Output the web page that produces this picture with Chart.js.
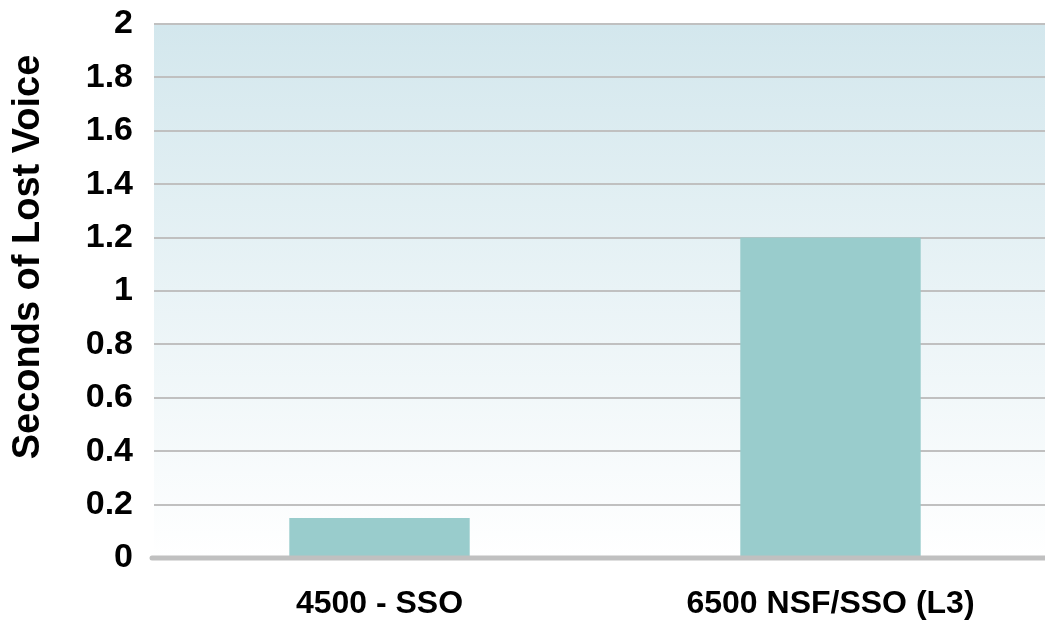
<!DOCTYPE html>
<html>
<head>
<meta charset="utf-8">
<script src="https://cdn.jsdelivr.net/npm/chart.js@4/dist/chart.umd.min.js"></script>
<style>
    html, body { margin: 0; padding: 0; background: #ffffff; overflow: hidden; }
    #wrap { position: relative; width: 1060px; height: 621px; }
</style>
</head>
<body>
<div id="wrap"><canvas id="lostVoiceChart"></canvas></div>
<script>
// Dados do gráfico
const categorias = ['4500 - SSO', '6500 NSF/SSO (L3)'];
const segundosPerdidos = [0.15, 1.2];
const rotulosY = ['0', '0.2', '0.4', '0.6', '0.8', '1', '1.2', '1.4', '1.6', '1.8', '2'];
const tituloY = 'Seconds of Lost Voice';

const corBarra = '#99cccc';
const corGrade = '#c0c0c0';
const fonte = "'Liberation Sans', Arial, sans-serif";

// Fundo em degradê da área de plotagem, linha de base e título do eixo Y
const extras = {
    id: 'extras',
    beforeDraw(chart) {
        const { ctx, chartArea: a } = chart;
        const g = ctx.createLinearGradient(0, a.top, 0, a.bottom);
        g.addColorStop(0, '#d3e7ed');
        g.addColorStop(1, '#ffffff');
        ctx.save();
        ctx.fillStyle = g;
        ctx.fillRect(a.left, a.top, a.right - a.left, a.bottom - a.top);
        ctx.restore();
    },
    afterDatasetsDraw(chart) {
        const { ctx, chartArea: a } = chart;
        ctx.save();
        ctx.strokeStyle = corGrade;
        ctx.lineWidth = 5;
        ctx.lineCap = 'round';
        ctx.beginPath();
        ctx.moveTo(a.left - 2, a.bottom);
        ctx.lineTo(a.right + 10, a.bottom);
        ctx.stroke();
        ctx.restore();
    },
    afterDraw(chart) {
        const { ctx } = chart;
        ctx.save();
        ctx.translate(29, 257);
        ctx.rotate(-Math.PI / 2);
        ctx.fillStyle = '#000000';
        ctx.font = `bold 38px ${fonte}`;
        ctx.textAlign = 'center';
        ctx.textBaseline = 'middle';
        ctx.fillText(tituloY, 0, 0);
        ctx.restore();
    }
};

new Chart(document.getElementById('lostVoiceChart'), {
    type: 'bar',
    data: {
        labels: categorias,
        datasets: [{
            data: segundosPerdidos,
            backgroundColor: corBarra,
            borderWidth: 0,
            barPercentage: 0.5,
            categoryPercentage: 0.8
        }]
    },
    options: {
        responsive: true,
        maintainAspectRatio: false,
        animation: false,
        layout: { padding: { top: 24, right: 4, left: 0, bottom: 0 } },
        plugins: { legend: { display: false }, tooltip: { enabled: false } },
        scales: {
            x: {
                grid: { display: false },
                border: { display: false },
                ticks: { color: '#000000', padding: 19, maxRotation: 0, font: { family: fonte, size: 32, weight: 'bold' } },
                afterFit: s => { s.height = 63; s.paddingLeft = 0; s.paddingRight = 0; }
            },
            y: {
                min: 0,
                max: 2,
                border: { display: false },
                grid: {
                    drawTicks: false,
                    lineWidth: 2,
                    color: c => c.tick && c.tick.value === 0 ? 'rgba(0,0,0,0)' : corGrade
                },
                ticks: {
                    stepSize: 0.2,
                    padding: 21,
                    color: '#000000',
                    font: { family: fonte, size: 34, weight: 'bold' },
                    callback: (v, i) => rotulosY[i]
                },
                afterFit: s => { s.width = 154; s.paddingTop = 0; s.paddingBottom = 0; }
            }
        }
    },
    plugins: [extras]
});
</script>
</body>
</html>
